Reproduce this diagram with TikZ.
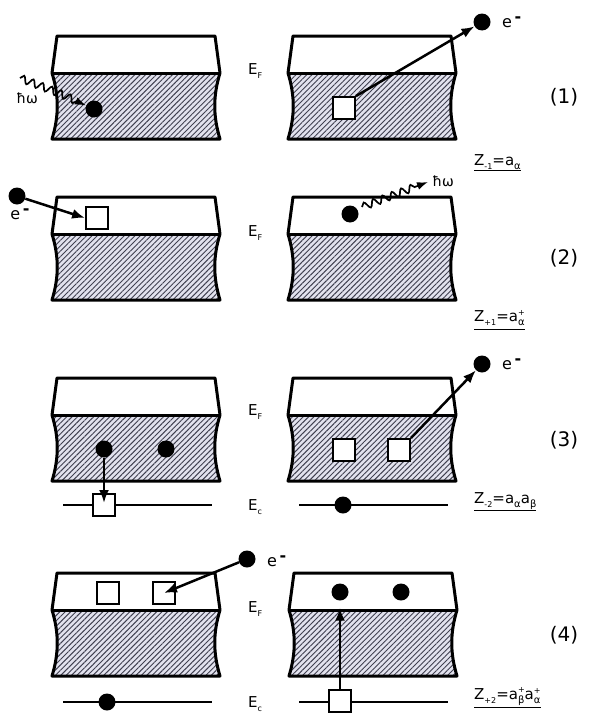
\documentclass[tikz,border=0pt]{standalone}
\usepackage{fontspec}
\setmainfont{DejaVu Sans}
\usetikzlibrary{arrows.meta,patterns.meta,decorations.pathmorphing}
\definecolor{hatchbg}{HTML}{E2E2EE}
\definecolor{hatchln}{HTML}{404050}
\newcommand{\subx}[2]{\raisebox{-4pt}{\fontsize{#1}{#1}\selectfont #2}}
\newcommand{\supsubx}[2]{\raisebox{-4pt}{\fontsize{10}{10}\selectfont\begin{tabular}[b]{@{}l@{}}{\fontsize{8}{8}\selectfont #1}\\#2\end{tabular}}}
\newcommand{\elec}{e\,\raisebox{4.5pt}{\textbf{-}}}
\newcommand{\bandpanel}[2]{%
\begin{scope}[shift={(#1,#2)}]
\path[hatchfill] (0,37) -- (168,37) .. controls (161,60) and (161,80) .. (168,103) -- (0,103) .. controls (7,80) and (7,60) .. (0,37) -- cycle;
\draw[panelline] (0,37) .. controls (2,18) .. (5,0) -- (163,0) .. controls (166,18) .. (168,37) .. controls (161,60) and (161,80) .. (168,103) -- (0,103) .. controls (7,80) and (7,60) .. (0,37) -- cycle;
\draw[panelline] (0,37) -- (168,37);
\end{scope}}
\tikzset{
 panelline/.style={line width=3pt, line join=round},
 hatchfill/.style={fill=hatchbg, postaction={pattern={Lines[angle=45,distance=3.8pt,line width=0.95pt]}, pattern color=hatchln}},
 dot/.style={circle, fill=black, minimum size=17pt, inner sep=0pt},
 hole/.style={rectangle, draw=black, fill=white, line width=1.8pt, minimum size=22pt, inner sep=0pt},
 arr/.style={line width=2.5pt, -{Latex[length=13pt,width=10pt]}},
 photon/.style={line width=1.7pt, decorate, decoration={snake, amplitude=3.6pt, segment length=10pt, post length=10pt}, -{Latex[length=11pt,width=8pt]}},
 level/.style={line width=2pt},
 elbl/.style={inner sep=0pt, font=\fontsize{15}{15}\selectfont, anchor=base west},
 hwlbl/.style={inner sep=0pt, font=\fontsize{14}{14}\selectfont},
 eelbl/.style={inner sep=0pt, font=\fontsize{16}{16}\selectfont},
 numlbl/.style={inner sep=0pt, font=\fontsize{20}{20}\selectfont},
 flbl/.style={inner sep=0pt, font=\fontsize{15}{15}\selectfont, anchor=base west},
}
\begin{document}
\begin{tikzpicture}[x=1pt,y=-1pt]
\useasboundingbox[fill=white] (0,0) rectangle (600,720);
% ---------- row 1 ----------
\bandpanel{52}{36}
\bandpanel{288}{36}
\node[elbl] (ef1) at (248,74) {E\subx{8}{F}};
\node[dot] (d11) at (94,109) {};
\coordinate (ph1a) at (20,78);
\coordinate (ph1b) at (56,92);
\draw[photon] (ph1a) -- (ph1b) -- (d11);
\node[hwlbl] (hw1) at (27,98) {ħω};
\node[hole] (h11) at (344,108) {};
\node[dot] (d12) at (482,22) {};
\draw[arr] (h11.north east) -- (d12);
\node[eelbl, anchor=west] (e1) at (502,22) {\elec};
\node[numlbl] (n1) at (564,97) {(1)};
\node[flbl] (z1) at (474,165) {\underline{Z\subx{8}{-1}=a\subx{10}{α}}};
% ---------- row 2 ----------
\bandpanel{52}{197}
\bandpanel{288}{197}
\node[elbl] (ef2) at (248,236) {E\subx{8}{F}};
\node[dot] (d21) at (17,196) {};
\node[eelbl] (e2) at (20,214) {\elec};
\node[hole] (h21) at (97,218) {};
\draw[arr] (d21) -- (h21.west);
\node[dot] (d22) at (350,214) {};
\coordinate (ph2a) at (362,207);
\coordinate (ph2b) at (428,182);
\draw[photon] (ph2a) -- (ph2b);
\node[hwlbl] (hw2) at (443,181) {ħω};
\node[numlbl] (n2) at (564,258) {(2)};
\node[flbl] (z2) at (474,321) {\underline{Z\subx{8}{+1}=a\supsubx{+}{α}}};
% ---------- row 3 ----------
\bandpanel{52}{378}
\bandpanel{288}{378}
\node[elbl] (ef3) at (248,415) {E\subx{8}{F}};
\node[elbl] (ec3) at (248,510) {E\subx{8}{c}};
\coordinate (l3a) at (63,505);
\coordinate (l3b) at (212,505);
\draw[level] (l3a) -- (l3b);
\coordinate (l3c) at (299,505);
\coordinate (l3d) at (448,505);
\draw[level] (l3c) -- (l3d);
\node[dot] (d31) at (104,449) {};
\node[dot] (d32) at (166,449) {};
\node[hole] (h31) at (104,505) {};
\draw[arr, shorten >=2pt] (d31) -- (h31.center);
\node[hole] (h32) at (344,450) {};
\node[hole] (h33) at (399,450) {};
\node[dot] (d33) at (482,364) {};
\draw[arr] (h33.north east) -- (d33);
\node[eelbl, anchor=west] (e3) at (502,364) {\elec};
\node[dot] (d34) at (343,505) {};
\node[numlbl] (n3) at (564,440) {(3)};
\node[flbl] (z3) at (474,503) {\underline{Z\subx{8}{-2}=a\subx{10}{α}a\subx{10}{β}}};
% ---------- row 4 ----------
\bandpanel{52}{573}
\bandpanel{289}{573}
\node[elbl] (ef4) at (248,612) {E\subx{8}{F}};
\node[elbl] (ec4) at (248,707) {E\subx{8}{c}};
\node[hole] (h41) at (108,593) {};
\node[hole] (h42) at (164,593) {};
\node[dot] (d41) at (247,559) {};
\draw[arr] (d41) -- (h42.center);
\node[eelbl, anchor=west] (e4) at (267,561) {\elec};
\coordinate (l4a) at (63,702);
\coordinate (l4b) at (212,702);
\draw[level] (l4a) -- (l4b);
\node[dot] (d42) at (107,702) {};
\node[dot] (d43) at (340,592) {};
\node[dot] (d44) at (401,592) {};
\coordinate (l4c) at (299,702);
\coordinate (l4d) at (448,702);
\draw[level] (l4c) -- (l4d);
\node[hole] (h43) at (340,701) {};
\draw[arr, shorten >=7pt] (h43.north) -- (d43);
\node[numlbl] (n4) at (564,635) {(4)};
\node[flbl] (z4) at (474,699) {\underline{Z\subx{8}{+2}=a\supsubx{+}{β}a\supsubx{+}{α}}};
\end{tikzpicture}
\end{document}
